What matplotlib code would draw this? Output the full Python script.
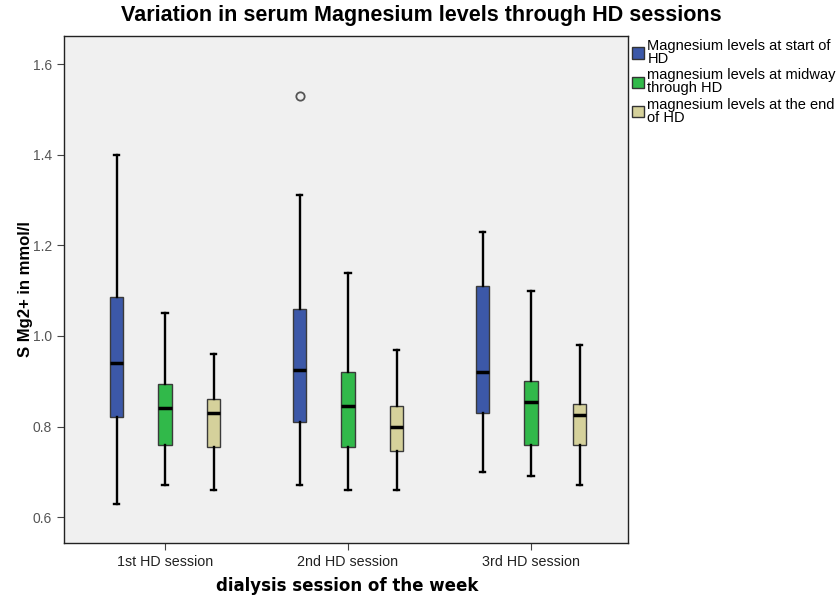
import matplotlib
matplotlib.use("Agg")
import matplotlib.pyplot as plt
from matplotlib.patches import Patch

plt.rcParams['font.family'] = ['Liberation Sans', 'DejaVu Sans']

sessions = ["1st HD session", "2nd HD session", "3rd HD session"]
series_labels = ["Magnesium levels at start of\nHD",
                 "magnesium levels at midway\nthrough HD",
                 "magnesium levels at the end\nof HD"]
colors = ["#3C58A8", "#31B94A", "#D5D19B"]

# Box statistics per series: one tuple per session (whislo, q1, median, q3, whishi)
start_stats = [(0.63, 0.82, 0.94, 1.085, 1.40),
               (0.67, 0.81, 0.925, 1.06, 1.31),
               (0.70, 0.83, 0.92, 1.11, 1.23)]
midway_stats = [(0.67, 0.76, 0.84, 0.895, 1.05),
                (0.66, 0.755, 0.845, 0.92, 1.14),
                (0.69, 0.76, 0.855, 0.90, 1.10)]
end_stats = [(0.66, 0.755, 0.83, 0.86, 0.96),
             (0.66, 0.745, 0.80, 0.845, 0.97),
             (0.67, 0.76, 0.825, 0.85, 0.98)]
start_outliers = [[], [1.53], []]
midway_outliers = [[], [], []]
end_outliers = [[], [], []]

all_stats = [start_stats, midway_stats, end_stats]
all_outliers = [start_outliers, midway_outliers, end_outliers]

fig = plt.figure(figsize=(8.36, 5.99), dpi=100)
ax = fig.add_axes([64/836, 1 - 543/599, (628-64)/836, (543-36)/599])
ax.set_facecolor("#F0F0F0")

offsets = [-0.265, 0.0, 0.265]
width = 0.072
for si, (stats, outs, col) in enumerate(zip(all_stats, all_outliers, colors)):
    bxp_data = []
    for gi, (s, o) in enumerate(zip(stats, outs)):
        bxp_data.append(dict(whislo=s[0], q1=s[1], med=s[2], q3=s[3],
                             whishi=s[4], fliers=o))
    positions = [g + offsets[si] for g in range(len(sessions))]
    ax.bxp(bxp_data, positions=positions, widths=width, patch_artist=True,
           showfliers=True, manage_ticks=False,
           boxprops=dict(facecolor=col, edgecolor="#3a3a3a", linewidth=1.0),
           medianprops=dict(color="black", linewidth=2.5),
           whiskerprops=dict(color="black", linewidth=1.7),
           capprops=dict(color="black", linewidth=1.7),
           capwidths=width * 0.45,
           flierprops=dict(marker="o", markerfacecolor="none",
                           markeredgecolor="#555555", markersize=6,
                           markeredgewidth=1.3))

ax.set_xlim(-0.552, 2.53)
ax.set_ylim(0.543, 1.662)
ax.set_xticks(range(len(sessions)))
ax.set_xticklabels(sessions, fontsize=10.3, color="#222222")
ax.set_yticks([0.6, 0.8, 1.0, 1.2, 1.4, 1.6])
ax.set_yticklabels(["0.6", "0.8", "1.0", "1.2", "1.4", "1.6"], fontsize=10, color="#555555")
ax.tick_params(axis="y", length=5, color="#444444")
ax.tick_params(axis="x", length=5, color="#444444")
for sp in ax.spines.values():
    sp.set_color("#222222")
    sp.set_linewidth(1.0)

ax.set_ylabel("S Mg2+ in mmol/l", fontsize=12, fontweight="bold", labelpad=0)
fig.text(347/836, 1 - 586/599, "dialysis session of the week", ha="center", va="center",
         fontsize=12, fontweight="bold", family=["DejaVu Sans"])
fig.text(421/836, 1 - 16/599, "Variation in serum Magnesium levels through HD sessions",
         ha="center", va="center", fontsize=15.5, fontweight="bold")

handles = [Patch(facecolor=c, edgecolor="#333333", linewidth=1.0) for c in colors]
leg = fig.legend(handles, series_labels, loc="upper left",
                 bbox_to_anchor=(632/836, 1 - 39/599), frameon=False,
                 fontsize=10.5, handlelength=0.85, handleheight=0.85, handletextpad=0.2,
                 labelspacing=0.15, borderaxespad=0, borderpad=0)
for t in leg.get_texts():
    t.set_linespacing(0.92)

fig.savefig("out.png", dpi=100, facecolor="white")
